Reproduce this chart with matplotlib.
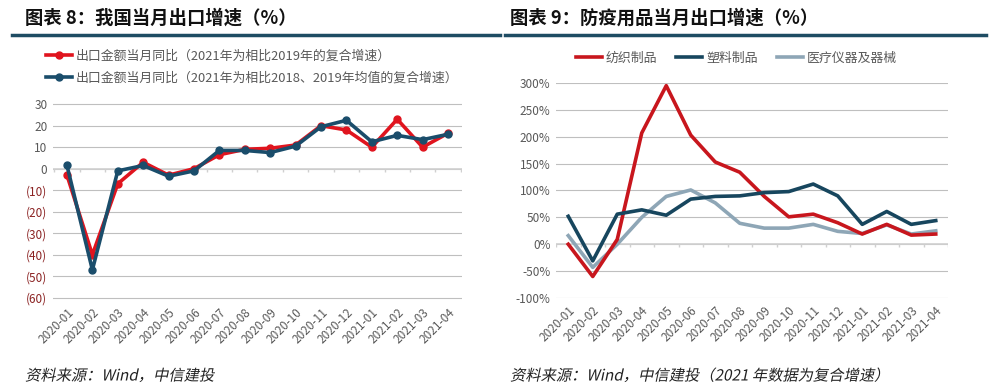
import matplotlib
matplotlib.use("Agg")
import matplotlib.pyplot as plt
from matplotlib.lines import Line2D
from matplotlib.patheffects import AbstractPathEffect
from matplotlib.transforms import Affine2D

plt.rcParams["font.family"] = ["Noto Sans CJK SC", "DejaVu Sans"]

# ── Data ──────────────────────────────────────────────────────────────────────
months = ["2020-01", "2020-02", "2020-03", "2020-04", "2020-05", "2020-06",
          "2020-07", "2020-08", "2020-09", "2020-10", "2020-11", "2020-12",
          "2021-01", "2021-02", "2021-03", "2021-04"]

export_vs2019 = [-3, -40, -7, 3, -3, 0, 6.5, 9, 9.5, 11, 20, 18, 10, 23, 10, 16.5]
export_vs1819 = [1.5, -47, -1, 1.5, -3.5, -1, 8.5, 8.5, 7.5, 10.5, 19.5, 22.5, 12.5, 15.5, 13.5, 16]

textile = [0, -60, 9, 207, 295, 203, 153, 134, 89, 51, 56, 40, 19, 37, 17, 19]
plastic = [52, -31, 56, 64, 54, 84, 89, 90, 96, 98, 112, 90, 37, 61, 37, 44]
medical = [16, -43, 0, 50, 89, 101, 77, 39, 30, 30, 37, 24, 20, 36, 19, 25]

left_ticks = [30, 20, 10, 0, -10, -20, -30, -40, -50, -60]
right_ticks = [300, 250, 200, 150, 100, 50, 0, -50, -100]

RED = "#E0141E"
NAVY = "#1A4D6B"
RED2 = "#C8161D"
NAVY2 = "#17465E"
GREY2 = "#8EA6B6"
TXT = "#595959"
RULE = "#1E4C63"

W, H = 994, 390
fig = plt.figure(figsize=(W / 100, H / 100), dpi=100)


class Slant(AbstractPathEffect):
    """Fake italic: shear the glyph outlines (the CJK font has no italic face)."""

    def draw_path(self, renderer, gc, tpath, affine, rgbFace=None):
        renderer.draw_path(gc, tpath, Affine2D().skew_deg(12, 0) + affine, rgbFace)


def px_axes(x0, x1, ytop, ybot):
    return fig.add_axes([x0 / W, 1 - ybot / H, (x1 - x0) / W, (ybot - ytop) / H])


def style_axes(ax, ticks):
    for s in ax.spines.values():
        s.set_visible(False)
    ax.set_yticks(ticks)
    ax.grid(axis="y", color="#BFBFBF", linewidth=0.8)
    ax.set_axisbelow(True)
    ax.tick_params(axis="both", length=0, labelsize=8.5, colors=TXT, pad=4)
    x = range(len(months))
    ax.set_xticks(list(x))
    ax.set_xticklabels(months, rotation=45, ha="right", rotation_mode="anchor",
                       fontsize=8.5, color=TXT)
    ax.axhline(0, color="#D0D0D0", linewidth=1.2, zorder=1)


# ── Headers ───────────────────────────────────────────────────────────────────
fig.text(25 / W, 1 - 18 / H, "图表 8：我国当月出口增速（%）", fontsize=13.2,
         fontweight="bold", va="center", ha="left", color="#111111")
fig.text(510 / W, 1 - 18 / H, "图表 9：防疫用品当月出口增速（%）", fontsize=13.2,
         fontweight="bold", va="center", ha="left", color="#111111")
fig.add_artist(Line2D([12 / W, 500 / W], [1 - 35 / H] * 2, color=RULE, linewidth=2.5))
fig.add_artist(Line2D([505 / W, 986 / W], [1 - 35 / H] * 2, color=RULE, linewidth=2.5))

# ── Left chart ────────────────────────────────────────────────────────────────
ax1 = px_axes(53, 462, 102, 300)
x = list(range(len(months)))
ax1.plot(x, export_vs2019, color=RED, linewidth=2.6, marker="o", markersize=5,
         label="出口金额当月同比（2021年为相比2019年的复合增速）", zorder=3)
ax1.plot(x, export_vs1819, color=NAVY, linewidth=2.6, marker="o", markersize=5,
         label="出口金额当月同比（2021年为相比2018、2019年均值的复合增速）", zorder=4)
style_axes(ax1, left_ticks)
ax1.set_ylim(-61, 31)
ax1.set_xlim(-0.55, 15.55)
ax1.set_yticklabels([f"({-v})" if v < 0 else f"{v}" for v in left_ticks])
for lbl, v in zip(ax1.get_yticklabels(), left_ticks):
    if v < 0:
        lbl.set_color("#8B2323")
ax1.vlines([i - 0.5 for i in range(len(months) + 1)], -1.5, 0, color="#D0D0D0",
           linewidth=1, zorder=1)
ax1.legend(loc="lower left", bbox_to_anchor=(-0.03, 1.06), frameon=False,
           fontsize=9.3, labelcolor=TXT, handlelength=2.0, handletextpad=0.3,
           labelspacing=0.7, borderaxespad=0)

# ── Right chart ───────────────────────────────────────────────────────────────
ax2 = px_axes(556, 948, 83, 298)
ax2.plot(x, textile, color=RED2, linewidth=2.6, label="纺织制品", zorder=3)
ax2.plot(x, plastic, color=NAVY2, linewidth=2.6, label="塑料制品", zorder=4)
ax2.plot(x, medical, color=GREY2, linewidth=2.6, label="医疗仪器及器械", zorder=2)
style_axes(ax2, right_ticks)
ax2.set_ylim(-100, 300)
ax2.set_xlim(-0.5, 15.5)
ax2.set_yticklabels([f"{v}%" for v in right_ticks])
ax2.vlines([i - 0.5 for i in range(len(months) + 1)], -5, 0, color="#D0D0D0",
           linewidth=1, zorder=1)
ax2.legend(loc="lower center", bbox_to_anchor=(0.46, 1.06), ncol=3, frameon=False,
           fontsize=9.3, labelcolor=TXT, handlelength=2.0, handletextpad=0.3,
           columnspacing=1.5, borderaxespad=0)

# ── Footers ───────────────────────────────────────────────────────────────────
fig.text(25 / W, 1 - 376 / H, "资料来源：Wind，中信建投", fontsize=11,
         va="center", ha="left", color="#222222", path_effects=[Slant()])
fig.text(510 / W, 1 - 376 / H, "资料来源：Wind，中信建投（2021 年数据为复合增速）",
         fontsize=11, va="center", ha="left", color="#222222", path_effects=[Slant()])

fig.savefig("out.png", dpi=100)
